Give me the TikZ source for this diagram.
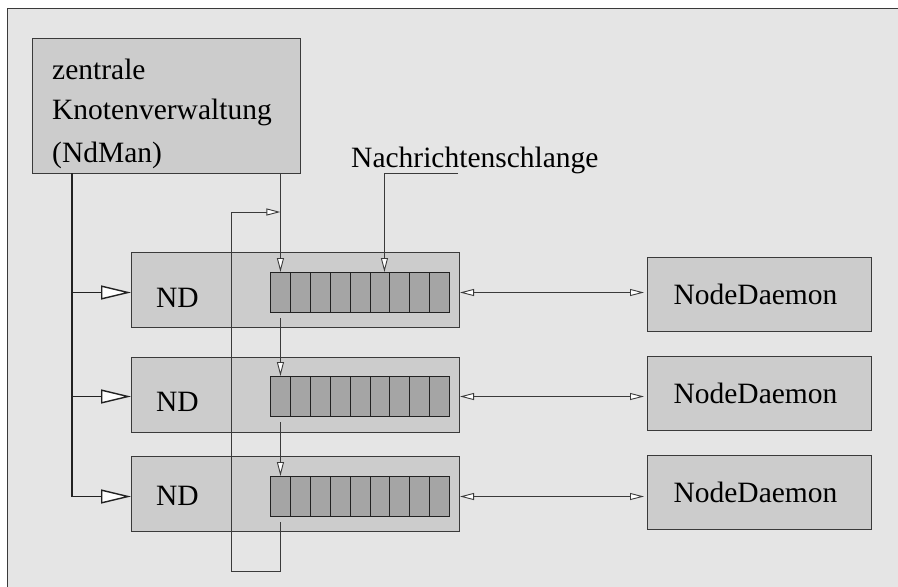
\documentclass[tikz,border=0pt]{standalone}
\usepackage{fontspec}
\setmainfont{Liberation Serif}
\usetikzlibrary{arrows.meta,calc}
\definecolor{bggray}{HTML}{E5E5E5}
\definecolor{boxgray}{HTML}{CCCCCC}
\definecolor{cellgray}{HTML}{A5A5A5}
\definecolor{ink}{HTML}{222222}
\definecolor{softink}{HTML}{3A3A3A}
\begin{document}
\begin{tikzpicture}[x=1pt,y=-1pt,
  font=\fontsize{29.5}{35}\selectfont,
  panel/.style={draw=softink, line width=1pt, fill=boxgray, inner sep=0pt, anchor=north west},
  cell/.style={draw=ink, line width=1pt, fill=cellgray, inner sep=0pt, anchor=north west,
    minimum width=19.9pt, minimum height=40pt},
  txt/.style={inner sep=0pt, text=black},
  wire/.style={draw=softink, line width=0.9pt},
  bigarrow/.style={draw=ink, line width=1.4pt, -{Triangle[length=30pt,width=14pt,fill=white]}},
  smallarrow/.style={wire, -{Triangle[length=14pt,width=7pt,fill=white]}},
  dblarrow/.style={wire, {Triangle[length=14pt,width=7pt,fill=white]}-{Triangle[length=14pt,width=7pt,fill=white]}, shorten >=3pt}
]
\useasboundingbox (0,0) rectangle (898,587);
% sheet background with its top and left border
\fill[bggray] (7,8) rectangle (910,600);
\draw[softink, line width=1pt] (910,8) -- (7,8) -- (7,600);

% central node manager
\node[panel, minimum width=268pt, minimum height=135pt] (ndman) at (32,38) {};
\node[txt, anchor=base west] (ndmanA) at (52,79) {zentrale};
\node[txt, anchor=base west] (ndmanB) at (52,119) {Knotenverwaltung};
\node[txt, anchor=base west] (ndmanC) at (52,162) {(NdMan)};

% ND boxes with their message queues
\foreach \i/\y/\qy/\ty in {1/252/272/307, 2/357/376/411, 3/456/476/505}{
  \node[panel, minimum width=328pt, minimum height=75pt] (nd\i) at (131,\y) {};
  \node[txt, anchor=base] (ndt\i) at (177.5,\ty) {ND};
  \foreach \j in {1,...,9}{
    \node[cell] (q\i c\j) at ({270+(\j-1)*19.9},\qy) {};
  }
}

% node daemons
\foreach \i/\y in {1/257, 2/356, 3/455}{
  \node[panel, minimum width=224pt, minimum height=74pt] (dm\i) at (647,\y) {};
  \node[txt] (dmt\i) at ($(dm\i.center)+(-4,0)$) {NodeDaemon};
}

% label for the message queue
\node[txt, anchor=base west] (nsl) at (351,167) {Nachrichtenschlange};
\coordinate (nslEnd) at (458,173);
\draw[smallarrow] (nslEnd) -| ($(q1c6.north)+(4.5,0)$);

% bus from the node manager to the ND boxes
\coordinate (busTop) at (72,173);
\draw[ink, line width=1.4pt] (busTop) -- (busTop |- q3c1.center);
\foreach \i in {1,2,3}{
  \draw[bigarrow] (busTop |- q\i c1.center) -- (nd\i.west |- q\i c1.center);
  \draw[dblarrow] (nd\i.east |- q\i c1.center) -- (dm\i.west |- q\i c1.center);
}

% queue chain
\coordinate (loopTop) at (231,212);
\draw[smallarrow] (ndman.south -| q1c1.north) -- (q1c1.north);
\draw[smallarrow] ($(q1c1.south)+(0,5)$) -- (q2c1.north);
\draw[smallarrow] ($(q2c1.south)+(0,5)$) -- (q3c1.north);
\draw[smallarrow] ($(q3c1.south)+(0,5)$) -- ++(0,49) -| (loopTop) -- (loopTop -| q1c1.north);
\end{tikzpicture}
\end{document}
